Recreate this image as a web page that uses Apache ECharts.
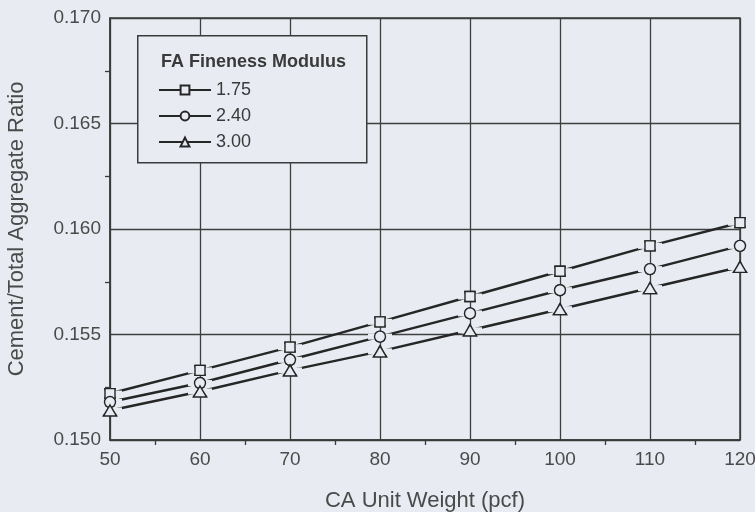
<!DOCTYPE html>
<html>
<head>
<meta charset="utf-8">
<script src="https://cdn.jsdelivr.net/npm/echarts@6/dist/echarts.min.js"></script>
<style>html,body{margin:0;padding:0;background:#e8ecf2;}#c{width:755px;height:512px;}</style>
</head>
<body>
<div id="c"></div>
<script>
var xValues = [50, 60, 70, 80, 90, 100, 110, 120];
var fm175 = [0.1522, 0.1533, 0.1544, 0.1556, 0.1568, 0.1580, 0.1592, 0.1603];
var fm240 = [0.1518, 0.1527, 0.1538, 0.1549, 0.1560, 0.1571, 0.1581, 0.1592];
var fm300 = [0.1514, 0.1523, 0.1533, 0.1542, 0.1552, 0.1562, 0.1572, 0.1582];
var seriesNames = ['1.75', '2.40', '3.00'];
var legendTitle = 'FA Fineness Modulus';
var xTitle = 'CA Unit Weight (pcf)';
var yTitle = 'Cement/Total Aggregate Ratio';

var BG = '#e8ecf2';
var INK = '#262626';
var FONT = 'Liberation Sans';

function pairs(ys) { return xValues.map(function (x, i) { return [x, ys[i]]; }); }

var sets = [fm175, fm240, fm300];
var symbols = ['rect', 'circle', 'triangle'];
var sizes = [10, 11, [13, 11]];

var series = [];
sets.forEach(function (ys, k) {
  series.push({
    name: seriesNames[k], type: 'line', data: pairs(ys), z: 2,
    symbol: symbols[k], symbolSize: sizes[k], showAllSymbol: true,
    lineStyle: { color: INK, width: 2.5 },
    itemStyle: { color: BG, borderColor: INK, borderWidth: 1.4 },
    emphasis: { disabled: true }, silent: true
  });
});
sets.forEach(function (ys, k) {
  series.push({
    name: 'cover' + k, type: 'scatter', data: pairs(ys), z: 3,
    symbol: 'rect', symbolSize: [24, 6],
    itemStyle: { color: BG, opacity: 1 }, silent: true
  });
});
sets.forEach(function (ys, k) {
  series.push({
    name: 'mark' + k, type: 'scatter', data: pairs(ys), z: 4,
    symbol: symbols[k], symbolSize: sizes[k],
    itemStyle: { color: BG, borderColor: INK, borderWidth: 1.4, opacity: 1 }, silent: true
  });
});

var chart = echarts.init(document.getElementById('c'), null, { renderer: 'canvas' });
chart.setOption({
  backgroundColor: BG,
  animation: false,
  textStyle: { fontFamily: FONT },
  grid: { left: 110, right: 15, top: 18, bottom: 72, outerBoundsMode: 'none', containLabel: false, show: true, borderColor: '#3a3a3a', borderWidth: 1.5, backgroundColor: 'transparent' },
  xAxis: {
    type: 'value', min: 50, max: 120, interval: 10,
    name: xTitle, nameLocation: 'middle', nameGap: 50,
    nameTextStyle: { fontFamily: FONT, fontSize: 22, color: '#4a4a4a' },
    axisLine: { show: true, lineStyle: { color: '#3a3a3a', width: 1.5 } },
    axisTick: { show: false },
    minorTick: { show: true, splitNumber: 2, length: 5, lineStyle: { color: '#3a3a3a', width: 1.3 } },
    axisLabel: { fontFamily: FONT, fontSize: 19, color: '#4a4a4a', margin: 10 },
    splitLine: { show: true, lineStyle: { color: '#3f3f3f', width: 1.3 } }
  },
  yAxis: {
    type: 'value', min: 0.150, max: 0.170, interval: 0.005,
    name: yTitle, nameLocation: 'middle', nameGap: 82, nameRotate: 90,
    nameTextStyle: { fontFamily: FONT, fontSize: 22, color: '#4a4a4a' },
    axisLine: { show: true, lineStyle: { color: '#3a3a3a', width: 1.5 } },
    axisTick: { show: false },
    minorTick: { show: true, splitNumber: 2, length: 5, lineStyle: { color: '#3a3a3a', width: 1.3 } },
    axisLabel: { fontFamily: FONT, fontSize: 19, color: '#4a4a4a', margin: 9, formatter: function (v) { return v.toFixed(3); } },
    splitLine: { show: true, lineStyle: { color: '#3f3f3f', width: 1.3 } }
  },
  legend: {
    data: seriesNames, orient: 'vertical', left: 158, top: 81, padding: 0,
    itemWidth: 52, itemHeight: 11, itemGap: 8, z: 20,
    selectedMode: false,
    textStyle: { fontFamily: FONT, fontSize: 18, lineHeight: 18, color: '#3a3a3a', padding: [0, 0, 0, 0] }
  },
  graphic: [
    { type: 'rect', left: 137, top: 35, z: 10, shape: { width: 229, height: 127 },
      style: { fill: BG, stroke: '#3a3a3a', lineWidth: 1.5 } },
    { type: 'text', left: 161, top: 53, z: 11,
      style: { text: legendTitle, font: 'bold 18px "Liberation Sans"', fill: '#3a3a3a' } }
  ],
  series: series
});
</script>
</body>
</html>
